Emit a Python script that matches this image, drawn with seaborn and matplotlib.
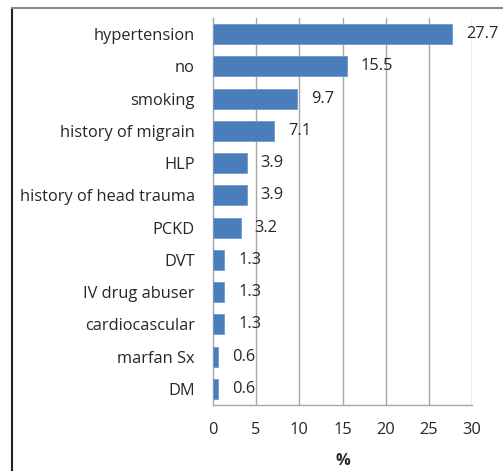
import matplotlib
matplotlib.use("Agg")
import matplotlib.pyplot as plt
import numpy as np
import pandas as pd
import seaborn as sns
from matplotlib.lines import Line2D

# ── Data ──────────────────────────────────────────────────────────────────────
categories = ["hypertension", "no", "smoking", "history of migrain", "HLP",
              "history of head trauma", "PCKD", "DVT", "IV drug abuser",
              "cardiocascular", "marfan Sx", "DM"]
percent = [27.7, 15.5, 9.7, 7.1, 3.9, 3.9, 3.2, 1.3, 1.3, 1.3, 0.6, 0.6]
x_ticks = [0, 5, 10, 15, 20, 25, 30]

df = pd.DataFrame({"factor": categories, "pct": percent})

sns.set_theme(style="white")
plt.rcParams["font.family"] = ["Open Sans", "DejaVu Sans"]

GRID = "#a6a6a6"
TXT = "#262626"
FS = 11.8
fig = plt.figure(figsize=(5.03, 4.71), dpi=100)
ax = fig.add_axes([0.4235, 0.140, 0.5149, 0.822])

sns.barplot(data=df, x="pct", y="factor", color="#4a7ebb", saturation=1,
            width=0.62, edgecolor="#6f9bd1", linewidth=0.6, ax=ax, zorder=3)

ax.set_xlim(0, 30)
ax.set_ylim(len(categories) - 0.5, -0.5)
ax.set_xticks(x_ticks)
ax.set_xticklabels([str(t) for t in x_ticks], fontsize=FS, color=TXT)
for t in x_ticks[1:]:
    ax.axvline(t, color=GRID, lw=1, zorder=1)

# Excel-style category ticks between bars
ax.set_yticks(np.arange(len(categories)))
ax.set_yticklabels(categories, fontsize=FS, color=TXT)
ax.set_yticks(np.arange(len(categories) + 1) - 0.5, minor=True)
ax.tick_params(axis="y", which="major", length=0, pad=13)
ax.tick_params(axis="y", which="minor", length=5, color=GRID, width=1, direction="out")
ax.tick_params(axis="x", which="major", length=5, color=GRID, width=1, direction="out", pad=7)

for side in ["top", "right"]:
    ax.spines[side].set_visible(False)
for side in ["left", "bottom"]:
    ax.spines[side].set_color(GRID)
    ax.spines[side].set_linewidth(1)

ax.set_xlabel("%", fontsize=FS, fontweight="bold", color=TXT, labelpad=11)
ax.set_ylabel("")

for i, v in enumerate(percent):
    ax.annotate(f"{v}", (v, i), xytext=(10, 0), textcoords="offset points",
                va="center", ha="left", fontsize=FS, color=TXT, zorder=4)

# figure frame (left dark, top gray)
fig.add_artist(Line2D([0.024, 0.024], [0, 0.983], color="#222222", lw=1.5,
                      transform=fig.transFigure))
fig.add_artist(Line2D([0.024, 1], [0.983, 0.983], color="#8c8c8c", lw=1.5,
                      transform=fig.transFigure))

fig.savefig("out.png", dpi=100)
